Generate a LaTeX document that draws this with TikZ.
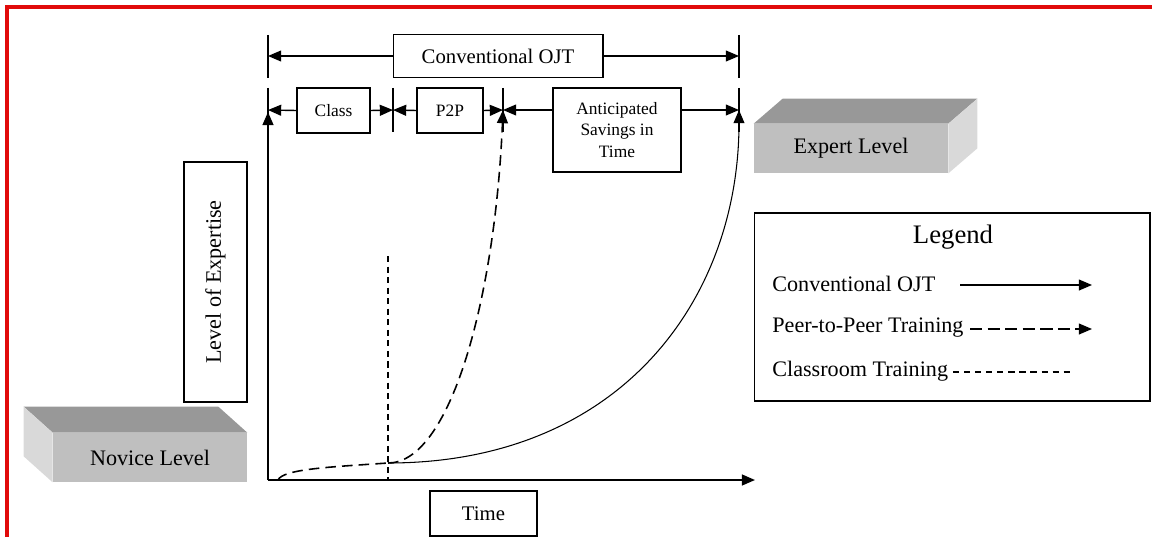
\documentclass[tikz,border=0pt]{standalone}
\usepackage{fontspec}
\setmainfont{Liberation Serif}
\usetikzlibrary{positioning,arrows.meta,calc}
\definecolor{frontgray}{RGB}{191,191,191}
\definecolor{topgray}{RGB}{152,152,152}
\definecolor{sidegray}{RGB}{217,217,217}
\definecolor{framered}{RGB}{225,10,10}

\begin{document}
\begin{tikzpicture}[
			x=0.02cm,y=-0.02cm,
			>={Triangle[length=7.5pt,width=6.2pt]},
			box/.style={draw,line width=0.6pt,inner sep=1pt,align=center},
			small/.style={font=\fontsize{9.9}{12}\selectfont},
			mid/.style={font=\fontsize{11.8}{14}\selectfont},
			big/.style={font=\fontsize{12.6}{15}\selectfont},
			dim/.style={->,line width=0.8pt},
			tick/.style={line width=0.6pt},
			axis/.style={->,line width=1.1pt},
			p2pline/.style={line width=0.9pt,dash pattern=on 6pt off 3.5pt},
			clsline/.style={line width=0.8pt,dash pattern=on 3.5pt off 2.5pt},
			convline/.style={line width=0.6pt},
			front/.style={fill=frontgray,big,minimum width=3.88cm,minimum height=0.98cm},
			entry/.style={big,anchor=west,inner sep=0pt}
			]
			
			\useasboundingbox (0,0) rectangle (1152,537);
			\draw[framered,line width=2pt] (1152,7) -- (7,7) -- (7,537);
			
			% time spans
			\coordinate (c0) at (268,56);
			\coordinate (c1) at (739,56);
			\foreach \c in {c0,c1}
				\draw[tick] ($(\c)+(0,-21)$) -- ($(\c)+(0,22)$);
			\foreach \x/\n in {268/0,393/1,503/2,739/3}{
				\coordinate (k\n) at (\x,110);
				\draw[tick] (\x,88) -- (\x,132);
			}
			
			\node[box,mid,minimum width=4.2cm,minimum height=0.86cm] (ojt) at (498,56) {Conventional OJT};
			\node[box,small,minimum width=1.46cm,minimum height=0.9cm] (class) at (333.5,110.5) {Class};
			\node[box,small,minimum width=1.32cm,minimum height=0.9cm] (p2p) at (450,110.5) {P2P};
			\node[box,small,minimum width=2.56cm,minimum height=1.68cm] (save) at (617,130)
			{Anticipated\\Savings in\\Time};
			
			\draw[dim] (ojt.west) -- (c0);
			\draw[dim] (ojt.east) -- (c1);
			\draw[dim] (class.west) -- (k0);
			\draw[dim] (class.east) -- (k1);
			\draw[dim] (p2p.west) -- (k1);
			\draw[dim] (p2p.east) -- (k2);
			\draw[dim] (save.west |- k2) -- (k2);
			\draw[dim] (save.east |- k3) -- (k3);
			
			% axes
			\coordinate (o) at (268,480);
			\coordinate (ytip) at (268,112);
			\coordinate (xtip) at (755,480);
			\draw[axis] (o) -- (ytip);
			\draw[axis] (o) -- (xtip);
			
			\node[box,big,rotate=90,minimum width=4.8cm,minimum height=1.26cm] (expertise) at (215.5,282) {Level of Expertise};
			\node[box,mid,minimum width=2.14cm,minimum height=0.9cm] (time) at (483.5,513.5) {Time};
			
			% learning curves
			\coordinate (start) at (278,480);
			\coordinate (knee) at (388,463);
			\coordinate (clstop) at (388,256);
			\draw[clsline] (clstop) -- (clstop |- o);
			\draw[p2pline] (start) .. controls (283,469) and (330,467) .. (knee);
			\draw[p2pline,->] (knee) .. controls (450,463) and (495,300) .. (k2);
			\draw[convline,->] (knee) .. controls (620,463) and (739,300) .. (k3);
			
			% levels
			\node[front] (novice) at (150,457.5) {Novice Level};
			\fill[topgray] (novice.north west) -- ++(-29,-26) -- ($(novice.north east)+(-29,-26)$) -- (novice.north east) -- cycle;
			\fill[sidegray] (novice.north west) -- ++(-29,-26) -- ($(novice.south west)+(-29,-26)$) -- (novice.south west) -- cycle;
			
			\node[front] (expert) at (851,148.5) {Expert Level};
			\fill[topgray] (expert.north west) -- ++(29,-25) -- ($(expert.north east)+(29,-25)$) -- (expert.north east) -- cycle;
			\fill[sidegray] (expert.north east) -- ++(29,-25) -- ($(expert.south east)+(29,-25)$) -- (expert.south east) -- cycle;
			
			% legend
			\node[draw,line width=0.6pt,minimum width=7.92cm,minimum height=3.76cm] (legend) at (952,307) {};
			\node[font=\fontsize{15.2}{18}\selectfont] (legtitle) at (953,237) {Legend};
			\node[entry] (lconv) at (772,284) {Conventional OJT};
			\node[entry] (lpeer) at (772,328) {Peer-to-Peer Training};
			\node[entry] (lcls) at (772,371) {Classroom Training};
			\coordinate (lconva) at (960,285);
			\coordinate (lconvb) at (1092,285);
			\coordinate (lpeera) at (970,329);
			\coordinate (lpeerb) at (1092,329);
			\coordinate (lclsa) at (953,372);
			\coordinate (lclsb) at (1070,372);
			\draw[convline,line width=0.8pt,->] (lconva) -- (lconvb);
			\draw[line width=0.8pt,dash pattern=on 7pt off 3pt,->] (lpeera) -- (lpeerb);
			\draw[line width=0.7pt,dash pattern=on 3.5pt off 2.8pt] (lclsa) -- (lclsb);
			
		\end{tikzpicture}
\end{document}
